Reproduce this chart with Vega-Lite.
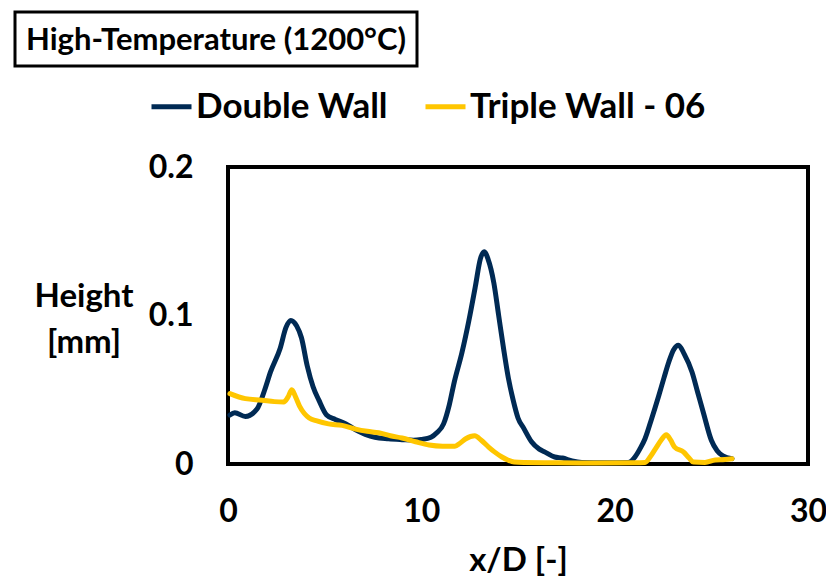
{
  "$schema": "https://vega.github.io/schema/vega-lite/v6.json",
  "background": "white",
  "padding": {"left": 13, "top": 10, "right": 0, "bottom": 0},
  "config": {"view": {"stroke": null}, "font": "Lato"},
  "spacing": 14,
  "resolve": {"legend": {"color": "independent"}},
  "vconcat": [
    {
      "width": 402,
      "height": 54,
      "view": {"stroke": "black", "strokeWidth": 3},
      "data": {"values": [{"label": "High-Temperature (1200°C)"}]},
      "mark": {"type": "text", "font": "Lato", "fontWeight": "bold", "fontSize": 31, "color": "black", "align": "center", "baseline": "middle", "dy": 2},
      "encoding": {"text": {"field": "label", "type": "nominal"}}
    },
    {
      "spacing": 11,
      "resolve": {"legend": {"color": "independent"}},
      "hconcat": [
        {
          "width": 120,
          "height": 297,
          "data": {"values": [{"label": "Height\n[mm]"}]},
          "mark": {"type": "text", "font": "Lato", "fontWeight": "bold", "fontSize": 33, "color": "black", "align": "center", "baseline": "middle", "lineBreak": "\n", "lineHeight": 46, "dx": 9, "dy": -19},
          "encoding": {"text": {"field": "label", "type": "nominal"}}
        },
        {
          "width": 580,
          "height": 297,
          "view": {"stroke": "black", "strokeWidth": 4},
          "data": {"values": [
            {"series": "Double Wall", "xD": 0.1, "height": 0.033},
            {"series": "Double Wall", "xD": 0.35, "height": 0.0345},
            {"series": "Double Wall", "xD": 0.9, "height": 0.032},
            {"series": "Double Wall", "xD": 1.5, "height": 0.037},
            {"series": "Double Wall", "xD": 1.9, "height": 0.05},
            {"series": "Double Wall", "xD": 2.2, "height": 0.062},
            {"series": "Double Wall", "xD": 2.7, "height": 0.078},
            {"series": "Double Wall", "xD": 3.0, "height": 0.092},
            {"series": "Double Wall", "xD": 3.25, "height": 0.0967},
            {"series": "Double Wall", "xD": 3.55, "height": 0.093},
            {"series": "Double Wall", "xD": 3.8, "height": 0.085},
            {"series": "Double Wall", "xD": 4.1, "height": 0.066},
            {"series": "Double Wall", "xD": 4.4, "height": 0.052},
            {"series": "Double Wall", "xD": 4.7, "height": 0.043},
            {"series": "Double Wall", "xD": 5.1, "height": 0.033},
            {"series": "Double Wall", "xD": 5.55, "height": 0.03},
            {"series": "Double Wall", "xD": 6.1, "height": 0.027},
            {"series": "Double Wall", "xD": 6.6, "height": 0.023},
            {"series": "Double Wall", "xD": 7.1, "height": 0.02},
            {"series": "Double Wall", "xD": 7.6, "height": 0.018},
            {"series": "Double Wall", "xD": 8.3, "height": 0.017},
            {"series": "Double Wall", "xD": 9.0, "height": 0.0164},
            {"series": "Double Wall", "xD": 9.6, "height": 0.016},
            {"series": "Double Wall", "xD": 10.0, "height": 0.0165},
            {"series": "Double Wall", "xD": 10.5, "height": 0.018},
            {"series": "Double Wall", "xD": 10.8, "height": 0.021},
            {"series": "Double Wall", "xD": 11.15, "height": 0.027},
            {"series": "Double Wall", "xD": 11.45, "height": 0.04},
            {"series": "Double Wall", "xD": 11.7, "height": 0.055},
            {"series": "Double Wall", "xD": 12.1, "height": 0.075},
            {"series": "Double Wall", "xD": 12.45, "height": 0.096},
            {"series": "Double Wall", "xD": 12.8, "height": 0.12},
            {"series": "Double Wall", "xD": 13.05, "height": 0.138},
            {"series": "Double Wall", "xD": 13.25, "height": 0.143},
            {"series": "Double Wall", "xD": 13.45, "height": 0.138},
            {"series": "Double Wall", "xD": 13.75, "height": 0.122},
            {"series": "Double Wall", "xD": 14.0, "height": 0.1},
            {"series": "Double Wall", "xD": 14.25, "height": 0.078},
            {"series": "Double Wall", "xD": 14.5, "height": 0.058},
            {"series": "Double Wall", "xD": 14.75, "height": 0.043},
            {"series": "Double Wall", "xD": 15.0, "height": 0.031},
            {"series": "Double Wall", "xD": 15.3, "height": 0.024},
            {"series": "Double Wall", "xD": 15.7, "height": 0.015},
            {"series": "Double Wall", "xD": 16.1, "height": 0.01},
            {"series": "Double Wall", "xD": 16.4, "height": 0.008},
            {"series": "Double Wall", "xD": 16.9, "height": 0.0047},
            {"series": "Double Wall", "xD": 17.3, "height": 0.004},
            {"series": "Double Wall", "xD": 17.8, "height": 0.002},
            {"series": "Double Wall", "xD": 18.3, "height": 0.001},
            {"series": "Double Wall", "xD": 19.5, "height": 0.0008},
            {"series": "Double Wall", "xD": 20.7, "height": 0.001},
            {"series": "Double Wall", "xD": 21.05, "height": 0.0047},
            {"series": "Double Wall", "xD": 21.3, "height": 0.01},
            {"series": "Double Wall", "xD": 21.57, "height": 0.017},
            {"series": "Double Wall", "xD": 21.9, "height": 0.03},
            {"series": "Double Wall", "xD": 22.28, "height": 0.046},
            {"series": "Double Wall", "xD": 22.55, "height": 0.058},
            {"series": "Double Wall", "xD": 22.8, "height": 0.0687},
            {"series": "Double Wall", "xD": 23.05, "height": 0.077},
            {"series": "Double Wall", "xD": 23.3, "height": 0.08},
            {"series": "Double Wall", "xD": 23.6, "height": 0.074},
            {"series": "Double Wall", "xD": 24.0, "height": 0.062},
            {"series": "Double Wall", "xD": 24.3, "height": 0.048},
            {"series": "Double Wall", "xD": 24.6, "height": 0.034},
            {"series": "Double Wall", "xD": 25.0, "height": 0.016},
            {"series": "Double Wall", "xD": 25.3, "height": 0.009},
            {"series": "Double Wall", "xD": 25.6, "height": 0.0055},
            {"series": "Double Wall", "xD": 26.07, "height": 0.0036},
            {"series": "Triple Wall - 06", "xD": 0.1, "height": 0.0474},
            {"series": "Triple Wall - 06", "xD": 0.9, "height": 0.044},
            {"series": "Triple Wall - 06", "xD": 1.76, "height": 0.043},
            {"series": "Triple Wall - 06", "xD": 2.4, "height": 0.042},
            {"series": "Triple Wall - 06", "xD": 2.88, "height": 0.0418},
            {"series": "Triple Wall - 06", "xD": 3.1, "height": 0.045},
            {"series": "Triple Wall - 06", "xD": 3.3, "height": 0.05},
            {"series": "Triple Wall - 06", "xD": 3.5, "height": 0.045},
            {"series": "Triple Wall - 06", "xD": 3.7, "height": 0.039},
            {"series": "Triple Wall - 06", "xD": 3.95, "height": 0.034},
            {"series": "Triple Wall - 06", "xD": 4.2, "height": 0.031},
            {"series": "Triple Wall - 06", "xD": 4.6, "height": 0.029},
            {"series": "Triple Wall - 06", "xD": 5.2, "height": 0.027},
            {"series": "Triple Wall - 06", "xD": 5.9, "height": 0.026},
            {"series": "Triple Wall - 06", "xD": 6.6, "height": 0.0235},
            {"series": "Triple Wall - 06", "xD": 7.2, "height": 0.022},
            {"series": "Triple Wall - 06", "xD": 7.8, "height": 0.021},
            {"series": "Triple Wall - 06", "xD": 8.4, "height": 0.019},
            {"series": "Triple Wall - 06", "xD": 9.0, "height": 0.0175},
            {"series": "Triple Wall - 06", "xD": 9.7, "height": 0.015},
            {"series": "Triple Wall - 06", "xD": 10.4, "height": 0.0128},
            {"series": "Triple Wall - 06", "xD": 11.1, "height": 0.012},
            {"series": "Triple Wall - 06", "xD": 11.74, "height": 0.012},
            {"series": "Triple Wall - 06", "xD": 12.0, "height": 0.014},
            {"series": "Triple Wall - 06", "xD": 12.3, "height": 0.017},
            {"series": "Triple Wall - 06", "xD": 12.76, "height": 0.019},
            {"series": "Triple Wall - 06", "xD": 13.1, "height": 0.016},
            {"series": "Triple Wall - 06", "xD": 13.48, "height": 0.0114},
            {"series": "Triple Wall - 06", "xD": 13.8, "height": 0.008},
            {"series": "Triple Wall - 06", "xD": 14.17, "height": 0.0047},
            {"series": "Triple Wall - 06", "xD": 14.5, "height": 0.0025},
            {"series": "Triple Wall - 06", "xD": 14.8, "height": 0.0013},
            {"series": "Triple Wall - 06", "xD": 15.3, "height": 0.001},
            {"series": "Triple Wall - 06", "xD": 17.0, "height": 0.0008},
            {"series": "Triple Wall - 06", "xD": 19.0, "height": 0.0007},
            {"series": "Triple Wall - 06", "xD": 21.0, "height": 0.0008},
            {"series": "Triple Wall - 06", "xD": 21.57, "height": 0.001},
            {"series": "Triple Wall - 06", "xD": 21.85, "height": 0.005},
            {"series": "Triple Wall - 06", "xD": 22.1, "height": 0.01},
            {"series": "Triple Wall - 06", "xD": 22.4, "height": 0.016},
            {"series": "Triple Wall - 06", "xD": 22.67, "height": 0.0197},
            {"series": "Triple Wall - 06", "xD": 22.9, "height": 0.016},
            {"series": "Triple Wall - 06", "xD": 23.1, "height": 0.0114},
            {"series": "Triple Wall - 06", "xD": 23.57, "height": 0.008},
            {"series": "Triple Wall - 06", "xD": 23.85, "height": 0.004},
            {"series": "Triple Wall - 06", "xD": 24.08, "height": 0.0013},
            {"series": "Triple Wall - 06", "xD": 24.67, "height": 0.001},
            {"series": "Triple Wall - 06", "xD": 25.2, "height": 0.0027},
            {"series": "Triple Wall - 06", "xD": 25.7, "height": 0.003},
            {"series": "Triple Wall - 06", "xD": 26.07, "height": 0.0036}
          ]},
          "mark": {"type": "line", "strokeWidth": 5, "interpolate": "monotone", "strokeCap": "round", "strokeJoin": "round"},
          "encoding": {
            "x": {
              "field": "xD", "type": "quantitative",
              "scale": {"domain": [0, 30], "nice": false},
              "axis": {"values": [0, 10, 20, 30], "title": "x/D [-]", "ticks": false, "grid": false, "domain": false,
                "labelPadding": 32, "labelFont": "Lato", "labelFontSize": 32, "labelFontWeight": "bold", "labelColor": "black",
                "labelFlush": false, "labelOverlap": false,
                "titleFont": "Lato", "titleFontSize": 33, "titleFontWeight": "bold", "titleColor": "black", "titlePadding": 17}
            },
            "y": {
              "field": "height", "type": "quantitative",
              "scale": {"domain": [0, 0.2], "nice": false},
              "axis": {"values": [0, 0.1, 0.2], "format": "~g", "title": null, "ticks": false, "grid": false, "domain": false,
                "labelPadding": 35, "labelFont": "Lato", "labelFontSize": 32, "labelFontWeight": "bold", "labelColor": "black",
                "labelFlush": false, "labelOverlap": false}
            },
            "color": {
              "field": "series", "type": "nominal",
              "scale": {"domain": ["Double Wall", "Triple Wall - 06"], "range": ["#002A54", "#FFC600"]},
              "legend": {"orient": "none", "legendX": -79, "legendY": -83, "direction": "horizontal", "title": null,
                "symbolType": "stroke", "symbolSize": 1600, "symbolStrokeWidth": 5,
                "labelFont": "Lato", "labelFontSize": 35, "labelFontWeight": "bold", "labelColor": "black",
                "labelLimit": 0, "labelOffset": 2, "columnPadding": 27, "padding": 0}
            }
          }
        }
      ]
    }
  ]
}
